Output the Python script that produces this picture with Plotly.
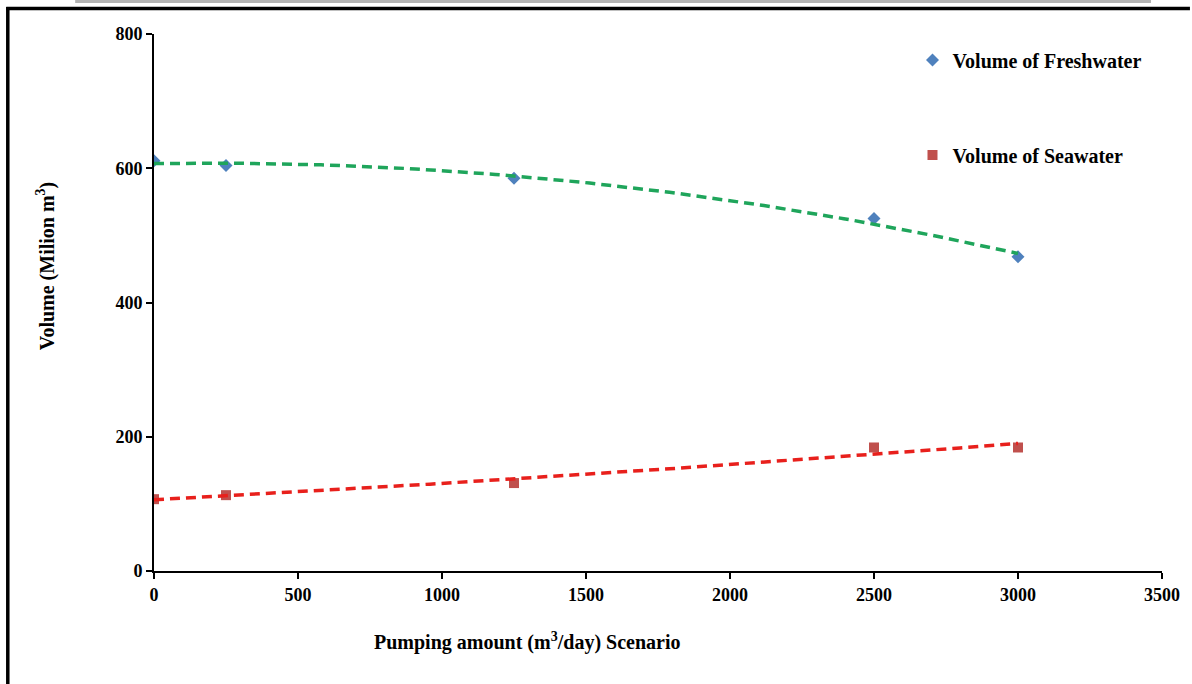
import numpy as np
import plotly.graph_objects as go

# Data
pumping = [0, 250, 1250, 2500, 3000]
freshwater = [611, 604, 585, 525, 468]
seawater = [107, 113, 131, 184, 184]
x_ticks = [0, 500, 1000, 1500, 2000, 2500, 3000, 3500]
y_ticks = [0, 200, 400, 600, 800]

W, H = 1192, 684
L, R, T, B = 154, 28, 34, 113
PW, PH = W - L - R, H - T - B


def px(xp):
    return (xp - L) / PW


def py(yp):
    return (H - B - yp) / PH


# polynomial (order 2) trendlines, as in the original spreadsheet chart
xs = np.linspace(min(pumping), max(pumping), 120)
fw_fit = np.polyval(np.polyfit(pumping, freshwater, 2), xs)
sw_fit = np.polyval(np.polyfit(pumping, seawater, 2), xs)

FONT = "Liberation Serif"

fig = go.Figure()
fig.add_trace(go.Scatter(
    x=pumping, y=freshwater, mode="markers", name="<b>Volume of Freshwater</b>",
    marker=dict(symbol="diamond", size=10, color="#4F81BD"), legend="legend"))
fig.add_trace(go.Scatter(
    x=pumping, y=seawater, mode="markers", name="<b>Volume of Seawater</b>",
    marker=dict(symbol="square", size=10, color="#C0504D"), legend="legend2"))
fig.add_trace(go.Scatter(
    x=xs, y=fw_fit, mode="lines", showlegend=False, hoverinfo="skip",
    line=dict(color="#1FA55B", width=3.5, dash="10px,6px")))
fig.add_trace(go.Scatter(
    x=xs, y=sw_fit, mode="lines", showlegend=False, hoverinfo="skip",
    line=dict(color="#E8201C", width=3.5, dash="10px,6px")))

axis_common = dict(
    showgrid=False, zeroline=False, showline=True, linecolor="black", linewidth=2,
    ticks="outside", ticklen=6, tickwidth=2, tickcolor="black",
    tickfont=dict(family=FONT, size=18, color="black", weight="bold"),
)

frame_line = dict(color="black", width=3.5)

fig.update_layout(
    width=W, height=H,
    margin=dict(l=L, r=R, t=T, b=B),
    paper_bgcolor="white", plot_bgcolor="white",
    font=dict(family=FONT, color="black"),
    xaxis=dict(range=[0, 3500], tickvals=x_ticks, **axis_common),
    yaxis=dict(range=[0, 800], tickvals=y_ticks, **axis_common),
    legend=dict(x=px(914), y=py(60), xanchor="left", yanchor="middle",
                bgcolor="rgba(0,0,0,0)",
                font=dict(family=FONT, size=20, color="black")),
    legend2=dict(x=px(914), y=py(155), xanchor="left", yanchor="middle",
                 bgcolor="rgba(0,0,0,0)",
                 font=dict(family=FONT, size=20, color="black")),
    annotations=[
        dict(text="<b>Pumping amount (m<sup>3</sup>/day) Scenario</b>",
             xref="paper", yref="paper", x=px(528), y=py(641),
             xanchor="center", yanchor="middle", showarrow=False,
             font=dict(family=FONT, size=20, color="black")),
        dict(text="<b>Volume (Milion m<sup>3</sup>)</b>", textangle=-90,
             xref="paper", yref="paper", x=px(45), y=py(266),
             xanchor="center", yanchor="middle", showarrow=False,
             font=dict(family=FONT, size=20, color="black")),
    ],
    shapes=[
        dict(type="rect", xref="paper", yref="paper",
             x0=px(75), x1=px(1153), y0=py(3), y1=py(0),
             fillcolor="#B3B3B3", line=dict(width=0), layer="above"),
        dict(type="line", xref="paper", yref="paper",
             x0=px(6), x1=px(1192), y0=py(8.5), y1=py(8.5),
             line=frame_line, layer="above"),
        dict(type="line", xref="paper", yref="paper",
             x0=px(7.5), x1=px(7.5), y0=py(7), y1=py(684),
             line=frame_line, layer="above"),
    ],
)

fig.write_html("out.html", config={"displayModeBar": False},
               post_script="document.body.style.margin='0';")
